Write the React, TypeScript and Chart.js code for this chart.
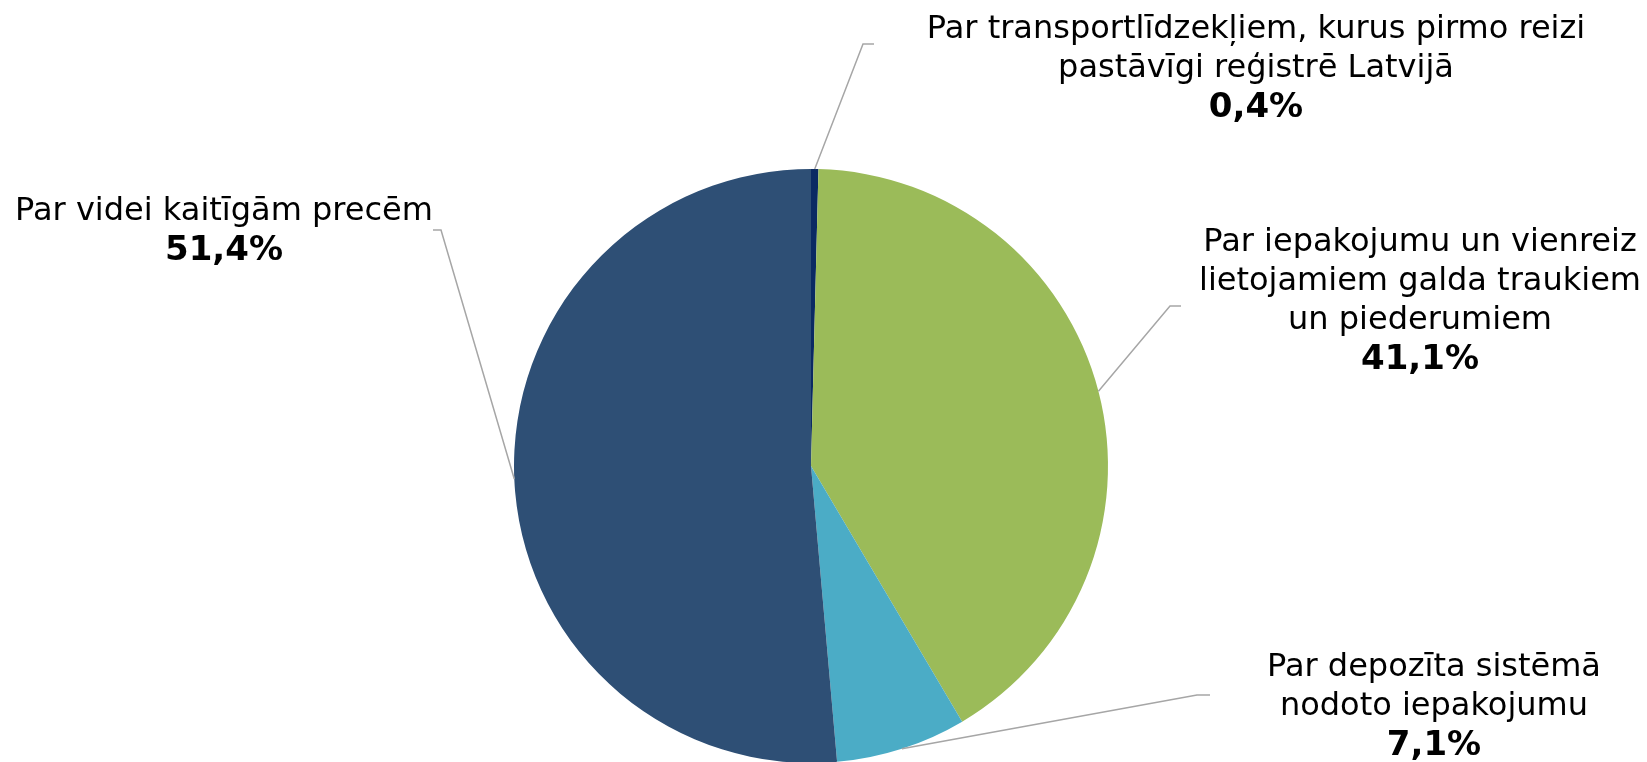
import React, { useEffect, useRef } from "react";
import { Chart, registerables } from "chart.js";
Chart.register(...registerables);

const categories: string[][] = [
  ["Par transportlīdzekļiem, kurus pirmo reizi", "pastāvīgi reģistrē Latvijā"],
  ["Par iepakojumu un vienreiz", "lietojamiem galda traukiem", "un piederumiem"],
  ["Par depozīta sistēmā", "nodoto iepakojumu"],
  ["Par videi kaitīgām precēm"],
];
const values = [0.4, 41.1, 7.1, 51.4];
const valueLabels = ["0,4%", "41,1%", "7,1%", "51,4%"];
const colors = ["#0B2A63", "#9BBB59", "#4BACC6", "#2E4F75"];

// label layout: elbow point, elbow end, text center x, first line center y
const labelLayout = [
  { ex: 863, ey: 44, hx: 874, tx: 1256, ty: 30 },
  { ex: 1170, ey: 306, hx: 1181, tx: 1420, ty: 243 },
  { ex: 1197, ey: 695, hx: 1210, tx: 1434, ty: 668 },
  { ex: 441, ey: 230, hx: 433, tx: 224, ty: 212 },
];
const FONT_SIZE = 32;
const BOLD_SIZE = 34;
const LINE_H = 39;

const labelPlugin = {
  id: "pieLabels",
  afterDatasetsDraw(chart: any) {
    const ctx = chart.ctx;
    const meta = chart.getDatasetMeta(0);
    ctx.save();
    meta.data.forEach((arc: any, i: number) => {
      const p = arc.getProps(["x", "y", "startAngle", "endAngle", "outerRadius"], true);
      const mid = (p.startAngle + p.endAngle) / 2;
      const sx = p.x + Math.cos(mid) * p.outerRadius;
      const sy = p.y + Math.sin(mid) * p.outerRadius;
      const L = labelLayout[i];
      ctx.strokeStyle = "#A6A6A6";
      ctx.lineWidth = 1.5;
      ctx.beginPath();
      ctx.moveTo(sx, sy);
      ctx.lineTo(L.ex, L.ey);
      ctx.lineTo(L.hx, L.ey);
      ctx.stroke();
      ctx.fillStyle = "#000000";
      ctx.textAlign = "center";
      ctx.textBaseline = "middle";
      const lines = categories[i];
      ctx.font = `${FONT_SIZE}px "DejaVu Sans"`;
      lines.forEach((t, j) => ctx.fillText(t, L.tx, L.ty + j * LINE_H));
      ctx.font = `bold ${BOLD_SIZE}px "DejaVu Sans"`;
      ctx.fillText(valueLabels[i], L.tx, L.ty + lines.length * LINE_H);
    });
    ctx.restore();
  },
};

export default function App() {
  const ref = useRef<HTMLCanvasElement>(null);
  useEffect(() => {
    document.body.style.margin = "0";
    const chart = new Chart(ref.current!, {
      type: "pie",
      data: {
        labels: categories.map((c) => c.join(" ")),
        datasets: [
          {
            data: values,
            backgroundColor: colors,
            borderWidth: 0,
            radius: 297,
          } as any,
        ],
      },
      options: {
        responsive: false,
        animation: false,
        layout: { padding: { top: 170, bottom: 0, left: 0, right: 25 } },
        plugins: { legend: { display: false }, tooltip: { enabled: false } },
      },
      plugins: [labelPlugin],
    });
    return () => chart.destroy();
  }, []);
  return (
    <div style={{ width: 1647, height: 762, background: "#fff" }}>
      <canvas ref={ref} width={1647} height={762} />
    </div>
  );
}
